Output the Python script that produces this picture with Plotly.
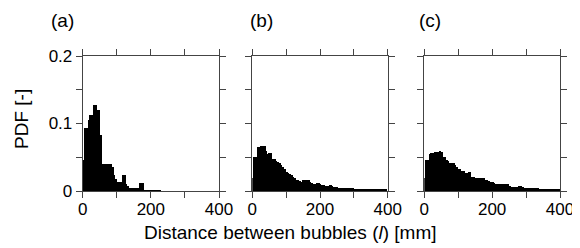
import plotly.graph_objects as go

bin_width = 5
# Left edges of 5 mm bins, 0..395 mm
bin_left = list(range(0, 400, 5))

pdf_a = [0.046, 0.093, 0.093, 0.105, 0.113, 0.113, 0.127, 0.127, 0.120, 0.120,
         0.083, 0.040, 0.040, 0.040, 0.040, 0.040, 0.040, 0.036, 0.024, 0.018,
         0.014, 0.013, 0.013, 0.024, 0.024, 0.010, 0.007, 0.005, 0.005, 0.005,
         0.005, 0.005, 0.005, 0.012, 0.012, 0.012, 0.001, 0.001, 0.001, 0.001,
         0.001, 0.001, 0.001, 0.001, 0.001, 0.001] + [0.0] * 34

pdf_b = [0.019, 0.051, 0.051, 0.065, 0.065, 0.067, 0.067, 0.066, 0.060, 0.055,
         0.056, 0.056, 0.048, 0.047, 0.045, 0.043, 0.041, 0.038, 0.035, 0.032,
         0.028, 0.027, 0.025, 0.023, 0.021, 0.019, 0.017, 0.017, 0.015, 0.014,
         0.017, 0.017, 0.016, 0.016, 0.013, 0.012, 0.011, 0.011, 0.012, 0.012,
         0.010, 0.009, 0.009, 0.007, 0.007, 0.007, 0.009, 0.008, 0.006, 0.006,
         0.006, 0.005, 0.005, 0.005, 0.005, 0.004, 0.004, 0.004, 0.004, 0.004,
         0.0025, 0.0025, 0.0025, 0.0025, 0.0025, 0.0025, 0.0025, 0.0025, 0.0015, 0.0015,
         0.0015, 0.0015, 0.0015, 0.0015, 0.0015, 0.0015, 0.0015, 0.0015, 0.0015, 0.0015]

pdf_c = [0.019, 0.046, 0.046, 0.055, 0.057, 0.057, 0.058, 0.058, 0.058, 0.059,
         0.058, 0.050, 0.050, 0.046, 0.044, 0.042, 0.041, 0.041, 0.038, 0.036,
         0.033, 0.032, 0.030, 0.030, 0.026, 0.026, 0.028, 0.028, 0.021, 0.021,
         0.019, 0.019, 0.019, 0.019, 0.020, 0.020, 0.017, 0.017, 0.015, 0.014,
         0.014, 0.012, 0.010, 0.011, 0.011, 0.011, 0.011, 0.011, 0.011, 0.011,
         0.007, 0.006, 0.006, 0.006, 0.006, 0.006, 0.008, 0.007, 0.006, 0.004,
         0.004, 0.004, 0.004, 0.004, 0.004, 0.004, 0.004, 0.004, 0.003, 0.003,
         0.003, 0.003, 0.003, 0.003, 0.003, 0.003, 0.0015, 0.0015, 0.0015, 0.0015]

panel_labels = ["(a)", "(b)", "(c)"]
x_tickvals = [0, 100, 200, 300, 400]
x_ticktext = ["0", "", "200", "", "400"]
y_tickvals = [0, 0.05, 0.1, 0.15, 0.2]
y_ticktext = ["0", "", "0.1", "", "0.2"]

W, H = 580, 248
OFF = 8  # page body margin of the default html page


def px_x(px):
    return (px - OFF) / W


def px_y(py):
    return 1 - (py - OFF) / H


x_domains = [(82.7, 219.0), (252.3, 387.7), (424.3, 560.0)]
y_dom = [px_y(191), px_y(56)]

FONT = "Liberation Sans, Arial, sans-serif"
AXC = "#444444"
FS_TICK = 17

fig = go.Figure()
series = [pdf_a, pdf_b, pdf_c]
for i, vals in enumerate(series):
    sfx = "" if i == 0 else str(i + 1)
    fig.add_trace(go.Bar(
        x=bin_left, y=vals, width=bin_width, offset=0,
        marker=dict(color="black", line=dict(width=0)),
        xaxis="x" + sfx, yaxis="y" + sfx, showlegend=False,
    ))
    xd = x_domains[i]
    common = dict(showline=True, linecolor=AXC, linewidth=1, mirror="ticks",
                  ticks="outside", ticklen=6, tickcolor=AXC, tickwidth=1,
                  showgrid=False, zeroline=False, automargin=False,
                  tickfont=dict(family=FONT, size=FS_TICK, color="black"))
    fig.update_layout(**{
        "xaxis" + sfx: dict(domain=[px_x(xd[0]), px_x(xd[1])], range=[0, 400],
                            anchor="y" + sfx, tickmode="array",
                            tickvals=x_tickvals, ticktext=x_ticktext,
                            ticklabelstandoff=-3, **common),
        "yaxis" + sfx: dict(domain=y_dom, range=[0, 0.2],
                            anchor="x" + sfx, tickmode="array",
                            tickvals=y_tickvals,
                            ticktext=y_ticktext if i == 0 else [""] * 5,
                            **common),
    })

label_x = [62, 261, 430]
for i, lab in enumerate(panel_labels):
    fig.add_annotation(text=lab, x=px_x(label_x[i]), y=px_y(21), xref="paper", yref="paper",
                       showarrow=False, xanchor="center", yanchor="middle",
                       font=dict(family=FONT, size=19, color="black"))

fig.add_annotation(text="Distance between bubbles (<i>l</i>) [mm]", x=px_x(290), y=px_y(232),
                   xref="paper", yref="paper", showarrow=False,
                   xanchor="center", yanchor="middle",
                   font=dict(family=FONT, size=19, color="black"))
fig.add_annotation(text="PDF [-]", x=px_x(22), y=px_y(119), xref="paper", yref="paper",
                   showarrow=False, textangle=-90, xanchor="center", yanchor="middle",
                   font=dict(family=FONT, size=19, color="black"))

fig.update_layout(width=W, height=H,
                  margin=dict(l=0, r=0, t=0, b=0, pad=0, autoexpand=False),
                  paper_bgcolor="white", plot_bgcolor="white", bargap=0)

fig.write_html("out.html")
